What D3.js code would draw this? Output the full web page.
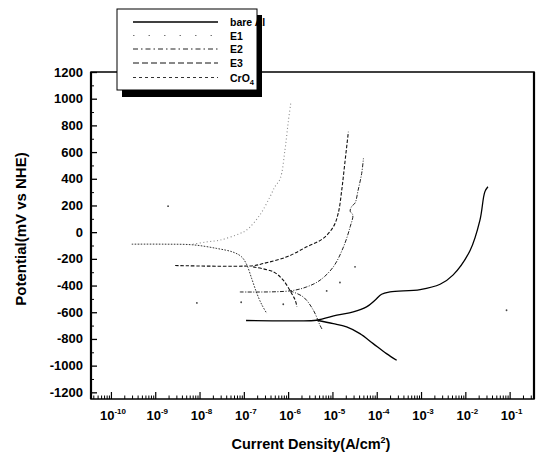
<!DOCTYPE html>
<html><head><meta charset="utf-8">
<script src="https://cdn.jsdelivr.net/npm/d3@7"></script>
<style>
html,body{margin:0;padding:0;background:#fff;}
svg{display:block;font-family:"Liberation Sans",Arial,sans-serif;}
</style></head>
<body>
<svg id="chart" width="538" height="457"></svg>
<script>
// ---- data (log10 of current density in A/cm², potential in mV vs NHE) ----
const xTickExponents = [-10, -9, -8, -7, -6, -5, -4, -3, -2, -1];
const yTickValues = [1200, 1000, 800, 600, 400, 200, 0, -200, -400, -600, -800, -1000, -1200];
const legendNames = ["bare Al", "E1", "E2", "E3", "CrO4"];

// bare Al
const bareAlAnodicLogI = [-6.95, -5.9, -5.36, -4.90, -4.53, -4.23, -4.04, -3.89, -3.70, -3.02, -2.57, -2.28, -1.89, -1.67, -1.56, -1.49];
const bareAlAnodicMV   = [-662, -664, -660, -622, -598, -560, -510, -465, -448, -430, -390, -322, -135, 90, 302, 340];
const bareAlCathodicLogI = [-5.36, -4.98, -4.68, -4.38, -4.08, -3.78, -3.55];
const bareAlCathodicMV   = [-660, -685, -710, -760, -835, -910, -960];

// E1 (light dotted, anodic branch)
const e1LogI = [-8.15, -7.84, -7.54, -7.09, -6.94, -6.64, -6.41, -6.30, -6.18, -6.07, -6.00, -5.94];
const e1MV   = [-90, -73, -60, -10, 15, 128, 265, 340, 400, 620, 818, 968];

// E2 (dash-dot)
const e2AnodicLogI = [-7.09, -5.96, -5.58, -5.28, -4.98, -4.75, -4.60, -4.54, -4.60, -4.56, -4.49, -4.42, -4.34, -4.30];
const e2AnodicMV   = [-448, -440, -410, -360, -260, -110, 40, 128, 158, 195, 218, 315, 440, 553];
const e2CathodicLogI = [-5.96, -5.66, -5.43, -5.28, -5.22];
const e2CathodicMV   = [-440, -485, -585, -698, -735];

// E3 (dashed)
const e3AnodicLogI = [-8.55, -6.79, -6.56, -6.03, -5.58, -5.21, -4.98, -4.87, -4.79, -4.72, -4.64];
const e3AnodicMV   = [-250, -251, -235, -185, -110, -47, 40, 140, 315, 518, 752];
const e3CathodicLogI = [-6.79, -6.33, -6.11, -5.92, -5.84, -5.80];
const e3CathodicMV   = [-260, -298, -360, -460, -510, -560];

// CrO4 (short dashes)
const cro4LogI = [-9.53, -8.8, -8.15, -7.61, -7.24, -7.05, -6.94, -6.82, -6.71, -6.60, -6.48];
const cro4MV   = [-90, -90, -95, -122, -150, -185, -240, -350, -455, -540, -610];

// isolated stray data points visible in the plot
const strayLogI = [-8.71, -8.06, -7.06, -6.11, -5.13, -4.83, -4.49, -1.07];
const strayMV   = [195, -530, -525, -540, -440, -377, -260, -585];

// ---- styles ----
const styles = {
  "bare Al": {stroke: "#000", width: 1.3, dash: null},
  "E1": {stroke: "#8a8a8a", width: 1.1, dash: "1,2.5"},
  "E2": {stroke: "#222", width: 1, dash: "4,1.5,1,1.5"},
  "E3": {stroke: "#111", width: 1.1, dash: "3.5,1.8"},
  "CrO4": {stroke: "#333", width: 1, dash: "1.6,1.4"}
};
const legendDash = {
  "bare Al": null, "E1": "1.5,14", "E2": "5,3,1.5,3", "E3": "6,3", "CrO4": "3,3"
};

const zip = (a, b) => a.map((v, i) => [v, b[i]]);
const series = [
  {name: "bare Al", pts: zip(bareAlAnodicLogI, bareAlAnodicMV)},
  {name: "bare Al", pts: zip(bareAlCathodicLogI, bareAlCathodicMV)},
  {name: "E1", pts: zip(e1LogI, e1MV)},
  {name: "E2", pts: zip(e2AnodicLogI, e2AnodicMV)},
  {name: "E2", pts: zip(e2CathodicLogI, e2CathodicMV)},
  {name: "E3", pts: zip(e3AnodicLogI, e3AnodicMV)},
  {name: "E3", pts: zip(e3CathodicLogI, e3CathodicMV)},
  {name: "CrO4", pts: zip(cro4LogI, cro4MV)}
];

const svg = d3.select("#chart");
const L = 91, R = 534, T = 72, B = 399;
const x = d3.scaleLog().domain([Math.pow(10, -10.45), Math.pow(10, -0.45)]).range([L, R]);
const y = d3.scaleLinear().domain([-1250, 1200]).range([B, T]);

// curves
const line = d3.line()
  .x(d => x(Math.pow(10, d[0])))
  .y(d => y(d[1]))
  .curve(d3.curveCatmullRom.alpha(0.5));

const plot = svg.append("g");
series.forEach(s => {
  const st = styles[s.name];
  plot.append("path")
    .attr("d", line(s.pts))
    .attr("fill", "none")
    .attr("stroke", st.stroke)
    .attr("stroke-width", st.width)
    .attr("stroke-dasharray", st.dash);
});
plot.selectAll("circle.stray").data(zip(strayLogI, strayMV)).join("circle")
  .attr("class", "stray")
  .attr("cx", d => x(Math.pow(10, d[0]))).attr("cy", d => y(d[1]))
  .attr("r", 0.9).attr("fill", "#444");

// frame
svg.append("rect").attr("x", L).attr("y", T).attr("width", R - L).attr("height", B - T)
  .attr("fill", "none").attr("stroke", "#000").attr("stroke-width", 1.5);
svg.append("line").attr("x1", L).attr("x2", L).attr("y1", T).attr("y2", B)
  .attr("stroke", "#000").attr("stroke-width", 2.2);
svg.append("line").attr("x1", R).attr("x2", R).attr("y1", T).attr("y2", B)
  .attr("stroke", "#000").attr("stroke-width", 2.2);

// y axis (ticks inward)
const yAxis = d3.axisRight(y).tickValues(yTickValues).tickSize(6).tickFormat("");
const yG = svg.append("g").attr("transform", `translate(${L},0)`).call(yAxis);
yG.select(".domain").remove();
yG.selectAll("line").attr("stroke-width", 1.3);
const yMinor = d3.range(-1200, 1201, 100).filter(v => v % 200 !== 0);
const yMinorG = svg.append("g").attr("transform", `translate(${L},0)`)
  .call(d3.axisRight(y).tickValues(yMinor).tickSize(3).tickFormat(""));
yMinorG.select(".domain").remove();
svg.append("g").selectAll("text").data(yTickValues).join("text")
  .attr("x", L - 8).attr("y", d => y(d)).attr("dy", "0.35em")
  .attr("text-anchor", "end").attr("font-size", 13).attr("font-weight", "bold")
  .text(d => d);

// x axis (ticks inward)
const xMajor = xTickExponents.map(e => Math.pow(10, e));
const xG = svg.append("g").attr("transform", `translate(0,${B})`)
  .call(d3.axisTop(x).tickValues(xMajor).tickSize(7).tickFormat(""));
xG.select(".domain").remove();
xG.selectAll("line").attr("stroke-width", 1.2);
const xMinor = [];
for (let e = -11; e <= 0; e++) for (let m = 2; m <= 9; m++) {
  const v = m * Math.pow(10, e);
  if (v > x.domain()[0] && v < x.domain()[1]) xMinor.push(v);
}
const xMinorG = svg.append("g").attr("transform", `translate(0,${B})`)
  .call(d3.axisTop(x).tickValues(xMinor).tickSize(3.5).tickFormat(""));
xMinorG.select(".domain").remove();
const xl = svg.append("g").selectAll("text").data(xTickExponents).join("text")
  .attr("x", d => x(Math.pow(10, d)) + 2).attr("y", 420)
  .attr("text-anchor", "middle").attr("font-size", 13).attr("font-weight", "bold");
xl.append("tspan").text("10");
xl.append("tspan").attr("dy", -6).attr("font-size", 8).text(d => d);

// axis titles
svg.append("text").attr("x", 311).attr("y", 449).attr("text-anchor", "middle")
  .attr("font-size", 14.5).attr("font-weight", "bold")
  .call(t => { t.append("tspan").text("Current Density(A/cm");
               t.append("tspan").attr("dy", -6).attr("font-size", 9).text("2");
               t.append("tspan").attr("dy", 6).text(")"); });
svg.append("text").attr("transform", "translate(26,229) rotate(-90)")
  .attr("text-anchor", "middle").attr("font-size", 15).attr("font-weight", "bold")
  .text("Potential(mV vs NHE)");

// legend
const lg = svg.append("g");
lg.append("rect").attr("x", 122).attr("y", 15).attr("width", 140).attr("height", 82).attr("fill", "#000");
lg.append("rect").attr("x", 117).attr("y", 9).attr("width", 140).attr("height", 81)
  .attr("fill", "#fff").attr("stroke", "#000").attr("stroke-width", 1);
const rowsY = [22, 35.5, 49, 63, 77.5];
legendNames.forEach((n, i) => {
  const st = styles[n];
  lg.append("line").attr("x1", 133).attr("x2", 218).attr("y1", rowsY[i]).attr("y2", rowsY[i])
    .attr("stroke", n === "E1" ? "#777" : st.stroke).attr("stroke-width", n === "bare Al" ? 1.4 : 1)
    .attr("stroke-dasharray", legendDash[n]);
  const t = lg.append("text").attr("x", 230).attr("y", rowsY[i] + 4)
    .attr("font-size", 10.5).attr("font-weight", "bold");
  if (n === "CrO4") {
    t.append("tspan").text("CrO");
    t.append("tspan").attr("dy", 3).attr("font-size", 7.5).text("4");
  } else {
    t.text(n);
  }
});
</script>
</body></html>
